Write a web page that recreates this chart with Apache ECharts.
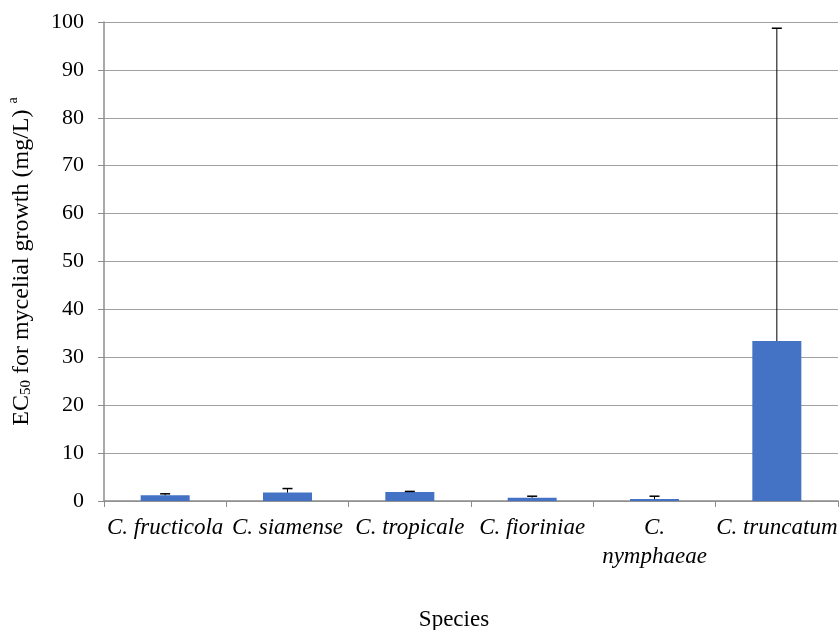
<!DOCTYPE html>
<html>
<head>
<meta charset="utf-8">
<script src="https://cdn.jsdelivr.net/npm/echarts@6/dist/echarts.min.js"></script>
<style>
  html, body { margin: 0; padding: 0; background: #fff; }
  #chart { width: 839px; height: 630px; }
</style>
</head>
<body>
<div id="chart"></div>
<script>
// species on the x axis
var species = ["C. fructicola", "C. siamense", "C. tropicale", "C. fioriniae", "C.\nnymphaeae", "C. truncatum"];
// mean EC50 (mg/L)
var ec50 = [1.2, 1.75, 1.9, 0.7, 0.4, 33.4];
// upper error (standard deviation)
var ec50Err = [0.3, 0.85, 0.1, 0.3, 0.6, 65.3];
var yTicks = [0, 10, 20, 30, 40, 50, 60, 70, 80, 90, 100];

var font = "'Liberation Serif', 'Times New Roman', serif";
var gray = "#8c8c8c";

var myChart = echarts.init(document.getElementById("chart"));

var errData = ec50.map(function (v, i) { return [i, v, v + ec50Err[i]]; });

var option = {
  animation: false,
  grid: { left: 104, right: 1, top: 22, bottom: 129, outerBoundsMode: "none", containLabel: false },
  title: {
    text: "Species",
    left: 449,
    top: 603,
    textAlign: "center",
    textStyle: { fontFamily: font, fontSize: 23, fontWeight: "normal", color: "#000" }
  },
  xAxis: {
    type: "category",
    data: species,
    axisLine: { lineStyle: { color: gray, width: 1.5 } },
    axisTick: { show: true, length: 6, lineStyle: { color: gray } },
    axisLabel: {
      margin: 12,
      interval: 0,
      fontFamily: font,
      fontStyle: "italic",
      fontSize: 23,
      lineHeight: 29,
      color: "#000"
    }
  },
  yAxis: {
    type: "value",
    min: yTicks[0],
    max: yTicks[yTicks.length - 1],
    interval: 10,
    name: "{a|EC}{b|50}{a| for mycelial growth (mg/L) }{c|a}",
    nameLocation: "middle",
    nameGap: 70,
    nameTextStyle: {
      rich: {
        a: { fontFamily: font, fontSize: 24, color: "#000", verticalAlign: "bottom", lineHeight: 28 },
        b: { fontFamily: font, fontSize: 15, color: "#000", verticalAlign: "bottom", lineHeight: 23 },
        c: { fontFamily: font, fontSize: 14, color: "#000", verticalAlign: "top", lineHeight: 28 }
      }
    },
    axisLine: { show: true, lineStyle: { color: gray, width: 1.5 } },
    axisTick: { show: true, length: 6, lineStyle: { color: gray } },
    splitLine: { lineStyle: { color: "#a0a0a0", width: 1 } },
    axisLabel: { margin: 20, fontFamily: font, fontSize: 22, color: "#000" }
  },
  series: [
    {
      name: "EC50",
      type: "bar",
      data: ec50,
      barWidth: 49,
      itemStyle: { color: "#4472C4" }
    },
    {
      name: "err",
      type: "custom",
      data: errData,
      z: 5,
      renderItem: function (params, api) {
        var lo = api.coord([api.value(0), api.value(1)]);
        var hi = api.coord([api.value(0), api.value(2)]);
        var w = 5;
        return {
          type: "group",
          children: [
            { type: "line", shape: { x1: lo[0], y1: lo[1], x2: hi[0], y2: hi[1] }, style: { stroke: "#000", lineWidth: 1 } },
            { type: "line", shape: { x1: hi[0] - w, y1: hi[1], x2: hi[0] + w, y2: hi[1] }, style: { stroke: "#000", lineWidth: 1.5 } }
          ]
        };
      }
    }
  ]
};

myChart.setOption(option);
window.onresize = myChart.resize;
</script>
</body>
</html>
